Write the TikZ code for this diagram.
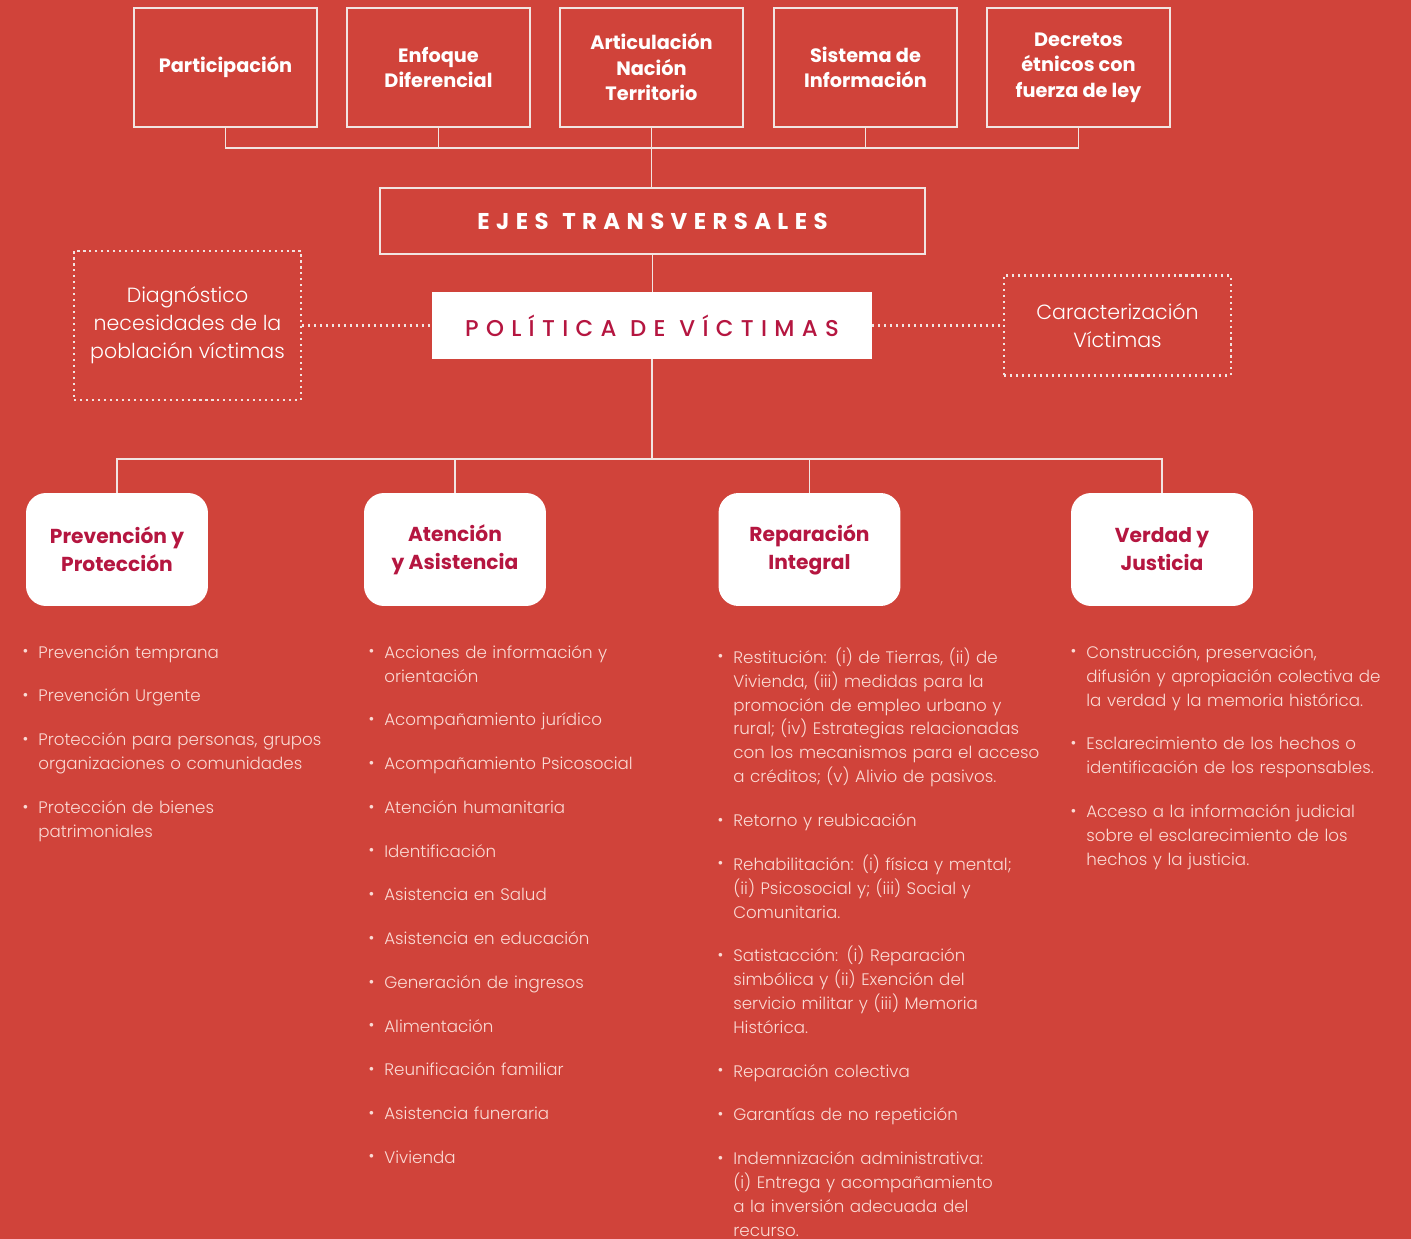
\documentclass[tikz,border=0pt]{standalone}
\usepackage{fontspec}
\setmainfont{Poppins}
\newfontfamily\lightfont{Poppins Light}
\newfontfamily\medfont{Poppins Medium}
\usepackage{enumitem}
\usetikzlibrary{positioning}

\definecolor{bgred}{RGB}{208,67,58}
\definecolor{wine}{RGB}{181,22,64}
\definecolor{pale}{RGB}{250,218,212}
\definecolor{rule}{RGB}{242,228,225}

\setlist[itemize]{leftmargin=0.36cm, labelsep=0.2cm, itemsep=11.3pt, parsep=0pt, topsep=0pt, partopsep=0pt, label={\raisebox{0.15ex}{\small\textbullet}}}

\tikzset{
  topbox/.style={draw=rule, line width=1pt, minimum width=3.66cm, minimum height=2.38cm,
    align=center, text=white, font=\bfseries\fontsize{11}{14.5}\selectfont},
  axisbox/.style={draw=rule, line width=1pt, minimum width=10.9cm, minimum height=1.32cm,
    text=white, font=\bfseries\fontsize{13}{15}\selectfont\addfontfeature{LetterSpace=28}},
  polbox/.style={fill=white, minimum width=8.8cm, minimum height=1.34cm,
    text=wine, font=\medfont\fontsize{13}{15}\selectfont\addfontfeature{LetterSpace=32}},
  dotbox/.style={draw=rule, line width=1.3pt, dash pattern=on 1.2pt off 2.2pt,
    minimum width=4.54cm, align=center, text=white, font=\lightfont\fontsize{11.7}{16}\selectfont},
  pillar/.style={fill=white, rounded corners=0.4cm, minimum width=3.64cm, minimum height=2.26cm,
    align=center, text=wine, font=\bfseries\fontsize{11.5}{16}\selectfont},
  itemlist/.style={anchor=north west, inner sep=0pt, text width=6.8cm, text=pale,
    font=\lightfont\fontsize{9.5}{13.6}\selectfont},
  conn/.style={draw=rule, line width=1pt},
  dotconn/.style={draw=rule, line width=1.3pt, dash pattern=on 1.2pt off 2.2pt}
}

\begin{document}
\begin{tikzpicture}[x=0.02cm, y=-0.02cm]
% BACKGROUND
\fill[bgred] (0,0) rectangle (1411,1239);
\useasboundingbox (0,0) rectangle (1411,1239);

% EJES TRANSVERSALES
\node[topbox] (par) at (225.5,67.5) {Participación};
\node[topbox] (enf) at (438.5,67.5) {Enfoque\\Diferencial};
\node[topbox] (art) at (651.5,67.5) {Articulación\\Nación\\Territorio};
\node[topbox] (sis) at (865.5,67.5) {Sistema de\\Información};
\node[topbox] (dec) at (1078.5,67.5) {Decretos\\étnicos con\\fuerza de ley};
\node[axisbox] (eje) at (652.5,221) {EJES\hspace{0.6em}TRANSVERSALES};

\coordinate (tbar) at (651.5,148);
\foreach \b in {par,enf,art,sis,dec}
  \draw[conn] (\b.south) |- (tbar);
\draw[conn] (art.south) -- (art.south |- eje.north);

% POLITICA
\node[polbox] (pol) at (652,325.5) {POLÍTICA\hspace{0.6em}DE\hspace{0.6em}VÍCTIMAS};
\node[dotbox, minimum height=2.98cm] (diag) at (187.5,325.5) {Diagnóstico\\necesidades de la\\población víctimas};
\node[dotbox, minimum height=2.0cm] (car) at (1117.5,325.5) {Caracterización\\Víctimas};

\draw[conn] (eje.south) -- (eje.south |- pol.north);
\draw[dotconn] (diag.east) -- (pol.west);
\draw[dotconn] (pol.east) -- (car.west);

% COMPONENTES
\node[pillar] (pre) at (117,549.5) {Prevención y\\Protección};
\node[pillar] (ate) at (455,549.5) {Atención\\y Asistencia};
\node[pillar] (rep) at (809.5,549.5) {Reparación\\Integral};
\node[pillar] (ver) at (1162,549.5) {Verdad y\\Justicia};

\coordinate (bbar) at (652,459);
\draw[conn] (pol.south) -- (bbar);
\foreach \p in {pre,ate,rep,ver}
  \draw[conn] (\p.north) |- (bbar);

% MEDIDAS
\node[itemlist] (list1) at (20,634) {\raggedright
\begin{itemize}
\item Prevención temprana
\item Prevención Urgente
\item Protección para personas, grupos\newline organizaciones o comunidades
\item Protección de bienes\newline patrimoniales
\end{itemize}};

\node[itemlist] (list2) at (366,634) {\raggedright
\begin{itemize}
\item Acciones de información y\newline orientación
\item Acompañamiento jurídico
\item Acompañamiento Psicosocial
\item Atención humanitaria
\item Identificación
\item Asistencia en Salud
\item Asistencia en educación
\item Generación de ingresos
\item Alimentación
\item Reunificación familiar
\item Asistencia funeraria
\item Vivienda
\end{itemize}};

\node[itemlist] (list3) at (715,639) {\raggedright
\begin{itemize}
\item Restitución: (i) de Tierras, (ii) de\newline Vivienda, (iii) medidas para la\newline promoción de empleo urbano y\newline rural; (iv) Estrategias relacionadas\newline con los mecanismos para el acceso\newline a créditos; (v) Alivio de pasivos.
\item Retorno y reubicación
\item Rehabilitación: (i) física y mental;\newline (ii) Psicosocial y; (iii) Social y\newline Comunitaria.
\item Satistacción: (i) Reparación\newline simbólica y (ii) Exención del\newline servicio militar y (iii) Memoria\newline Histórica.
\item Reparación colectiva
\item Garantías de no repetición
\item Indemnización administrativa:\newline (i) Entrega y acompañamiento\newline a la inversión adecuada del\newline recurso.
\end{itemize}};

\node[itemlist] (list4) at (1068,634) {\raggedright
\begin{itemize}
\item Construcción, preservación,\newline difusión y apropiación colectiva de\newline la verdad y la memoria histórica.
\item Esclarecimiento de los hechos o\newline identificación de los responsables.
\item Acceso a la información judicial\newline sobre el esclarecimiento de los\newline hechos y la justicia.
\end{itemize}};
\end{tikzpicture}
\end{document}
